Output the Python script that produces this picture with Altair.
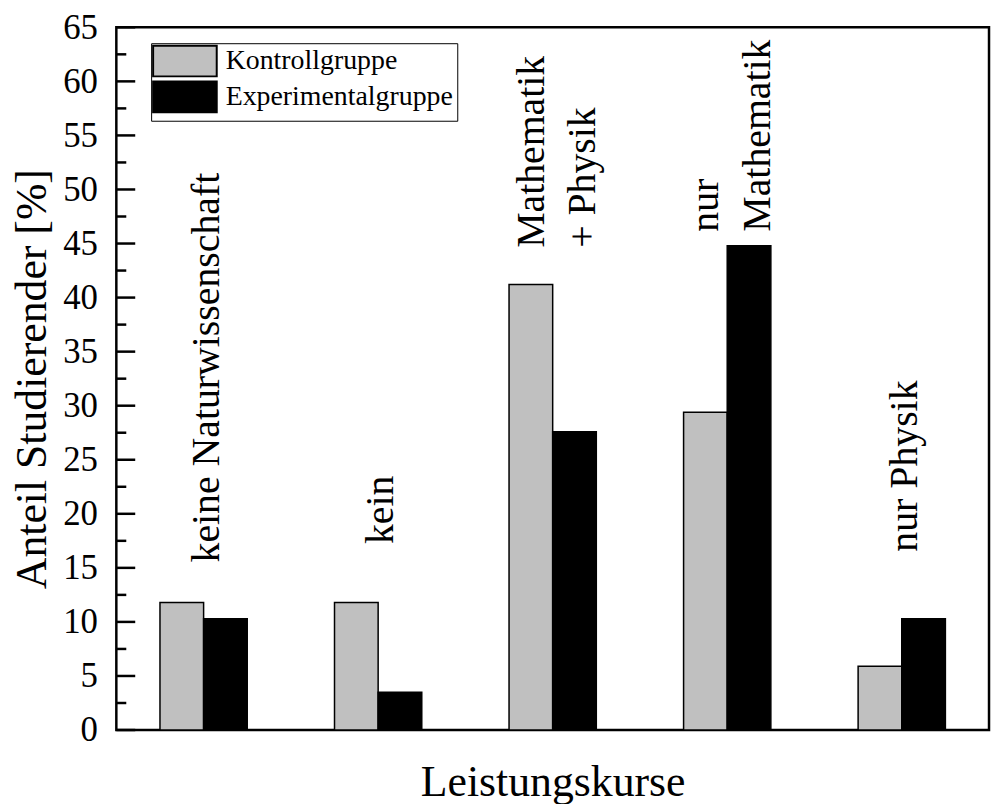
import altair as alt
import pandas as pd

kurse = ["keine Naturwissenschaft", "kein", "Mathematik + Physik", "nur Mathematik", "nur Physik"]
gruppen = ["Kontrollgruppe", "Experimentalgruppe"]
kontroll = [11.8, 11.8, 41.2, 29.4, 5.9]
experimental = [10.3, 3.5, 27.6, 44.8, 10.3]
label_text = ["keine Naturwissenschaft", "kein", "Mathematik\n+ Physik", "nur\nMathematik", "nur Physik"]
label_y = [15.5, 17.2, 44.6, 46.1, 16.5]
y_major = [0, 5, 10, 15, 20, 25, 30, 35, 40, 45, 50, 55, 60, 65]
y_minor = [2.5, 7.5, 12.5, 17.5, 22.5, 27.5, 32.5, 37.5, 42.5, 47.5, 52.5, 57.5, 62.5]

rows = []
for k, a, b in zip(kurse, kontroll, experimental):
    rows.append({"kurs": k, "gruppe": gruppen[0], "wert": a})
    rows.append({"kurs": k, "gruppe": gruppen[1], "wert": b})
bar_df = pd.DataFrame(rows)
lab_df = pd.DataFrame({"kurs": kurse, "text": label_text, "ly": label_y})
major_df = pd.DataFrame({"v": y_major})
minor_df = pd.DataFrame({"v": y_minor})

FONT = "Liberation Serif"
x_scale = alt.Scale(domain=kurse, paddingInner=0.5, paddingOuter=0.25)
y_scale = alt.Scale(domain=[0, 65], nice=False, zero=True)

x_axis = alt.Axis(labels=False, ticks=False, domain=False, grid=False,
                  title="Leistungskurse", titleFontSize=44, titleY=66,
                  titleX=439, titleBaseline="alphabetic", titleAlign="center",
                  titleFontWeight="normal", titleFont=FONT, titleColor="black")
y_axis = alt.Axis(values=y_major, ticks=False, tickSize=0, domain=False, grid=False,
                  labelPadding=19, labelFontSize=35, labelFont=FONT, labelColor="black",
                  title="Anteil Studierender [%]", titleFontSize=44, titleFont=FONT,
                  titleFontWeight="normal", titleColor="black", titleX=-71, titleY=353.5,
                  titleBaseline="alphabetic", titleAlign="center", titleAngle=270)

bars = alt.Chart(bar_df).mark_bar(stroke="black", strokeWidth=1.5).encode(
    x=alt.X("kurs:N", scale=x_scale, sort=kurse, axis=x_axis),
    xOffset=alt.XOffset("gruppe:N", sort=gruppen,
                        scale=alt.Scale(domain=gruppen, paddingInner=0, paddingOuter=0)),
    y=alt.Y("wert:Q", scale=y_scale, axis=y_axis),
    color=alt.Color("gruppe:N", scale=alt.Scale(domain=gruppen, range=["#c0c0c0", "#000000"]),
                    legend=alt.Legend(title=None, orient="none", legendX=35, legendY=16,
                                      symbolType="M-4,-1.92H4V1.92H-4Z", symbolSize=256,
                                      symbolOffset=16,
                                      symbolStrokeColor="black", symbolStrokeWidth=2,
                                      symbolOpacity=1, labelFontSize=28, labelFont=FONT,
                                      labelColor="black", labelOffset=27, strokeColor="black",
                                      fillColor="white", padding=4, rowPadding=-4,
                                      labelLimit=400)),
)

text_common = dict(angle=270, align="left", baseline="middle", fontSize=40, font=FONT,
                   lineBreak="\n", lineHeight=52, color="black")
label_enc = dict(
    x=alt.X("kurs:N", scale=x_scale, sort=kurse, axis=x_axis),
    y=alt.Y("ly:Q", scale=y_scale, axis=y_axis),
    text="text:N",
)
labels_single = alt.Chart(lab_df).transform_filter(
    "indexof(datum.text, '\\n') < 0"
).mark_text(dy=3, **text_common).encode(**label_enc)
labels_multi = alt.Chart(lab_df).transform_filter(
    "indexof(datum.text, '\\n') >= 0"
).mark_text(dy=-21, **text_common).encode(**label_enc)

major = alt.Chart(major_df).mark_rule(color="black", strokeWidth=2.5).encode(
    y=alt.Y("v:Q", scale=y_scale, axis=y_axis), x=alt.value(0), x2=alt.value(19))
minor = alt.Chart(minor_df).mark_rule(color="black", strokeWidth=2.5).encode(
    y=alt.Y("v:Q", scale=y_scale, axis=y_axis), x=alt.value(0), x2=alt.value(10))

chart = alt.layer(bars, labels_single, labels_multi, major, minor).properties(
    width=878, height=707,
    padding={"left": 109, "top": 17, "right": 3, "bottom": 72},
    autosize=alt.AutoSizeParams(type="none"),
    background="white",
).configure(font=FONT).configure_view(stroke="black", strokeWidth=2.5)

chart.save("out.html", embed_options={"renderer": "svg", "actions": False})
